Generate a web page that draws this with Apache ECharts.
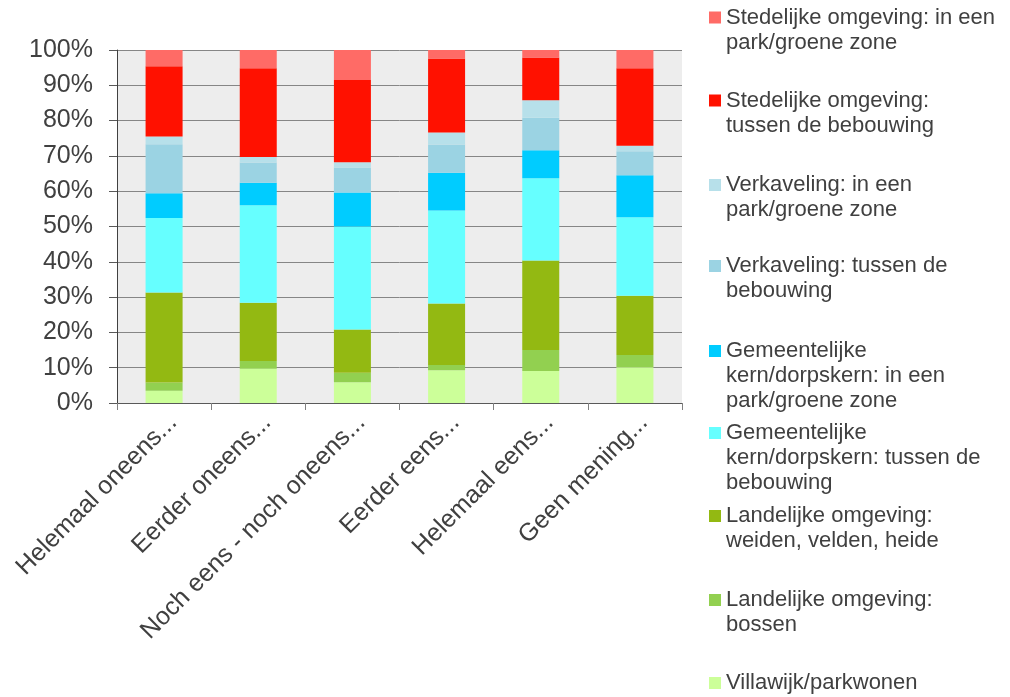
<!DOCTYPE html>
<html>
<head>
<meta charset="utf-8">
<script src="https://cdn.jsdelivr.net/npm/echarts@6/dist/echarts.min.js"></script>
<style>
html,body{margin:0;padding:0;background:#fff;}
#chart{width:1010px;height:697px;}
</style>
</head>
<body>
<div id="chart"></div>
<script>
// Categories (x axis)
const categories = ['Helemaal oneens...', 'Eerder oneens...', 'Noch eens - noch oneens...', 'Eerder eens...', 'Helemaal eens...', 'Geen mening...'];

// Series values (%), bottom of stack first
const villawijk       = [3.5, 9.7, 5.9, 9.3, 9.1, 10.1];
const landBossen      = [2.3, 2.2, 2.7, 1.5, 5.9, 3.5];
const landWeiden      = [25.5, 16.5, 12.2, 17.4, 25.4, 16.8];
const kernTussen      = [21.1, 27.6, 29.2, 26.3, 23.3, 22.2];
const kernPark        = [7.0, 6.4, 9.6, 10.7, 7.9, 11.9];
const verkTussen      = [13.9, 5.7, 7.1, 8.0, 9.2, 6.8];
const verkPark        = [2.2, 1.6, 1.5, 3.4, 5.0, 1.6];
const stedTussen      = [19.9, 25.1, 23.3, 21.0, 12.1, 21.9];
const stedPark        = [4.6, 5.2, 8.5, 2.4, 2.1, 5.2];

// Series names
const seriesNames = [
  'Villawijk/parkwonen',
  'Landelijke omgeving: bossen',
  'Landelijke omgeving: weiden, velden, heide',
  'Gemeentelijke kern/dorpskern: tussen de bebouwing',
  'Gemeentelijke kern/dorpskern: in een park/groene zone',
  'Verkaveling: tussen de bebouwing',
  'Verkaveling: in een park/groene zone',
  'Stedelijke omgeving: tussen de bebouwing',
  'Stedelijke omgeving: in een park/groene zone'
];
// Legend labels as wrapped in the reference
const legendLabels = [
  'Villawijk/parkwonen',
  'Landelijke omgeving:\nbossen',
  'Landelijke omgeving:\nweiden, velden, heide',
  'Gemeentelijke\nkern/dorpskern: tussen de\nbebouwing',
  'Gemeentelijke\nkern/dorpskern: in een\npark/groene zone',
  'Verkaveling: tussen de\nbebouwing',
  'Verkaveling: in een\npark/groene zone',
  'Stedelijke omgeving:\ntussen de bebouwing',
  'Stedelijke omgeving: in een\npark/groene zone'
];
const seriesValues = [villawijk, landBossen, landWeiden, kernTussen, kernPark, verkTussen, verkPark, stedTussen, stedPark];
const seriesColors = ['#ccff99', '#92d050', '#93b912', '#66ffff', '#00ccff', '#9bd3e3', '#b7e0ea', '#ff1100', '#ff6b66'];

// Y axis ticks
const yTicks = [0, 10, 20, 30, 40, 50, 60, 70, 80, 90, 100];

const FONT = '"Liberation Sans", Arial, sans-serif';
const TXT = '#404040';

// legend first-line centres (top to bottom = last series first)
const legendCentres = [683, 600, 516, 433, 351, 266, 185, 100.5, 17.5];
const LH = 25;

const legends = seriesNames.map((name, i) => {
  const n = legendLabels[i].split('\n').length;
  // prepend blank lines so the first real line sits level with the icon
  const txt = '\n'.repeat(n - 1) + legendLabels[i];
  return {
    data: [name],
    left: 709,
    top: legendCentres[i] - (2 * n - 1) * LH / 2,
    padding: 0,
    itemWidth: 12,
    itemHeight: 12,
    itemGap: 0,
    icon: 'rect',
    selectedMode: false,
    formatter: () => txt,
    textStyle: {
      fontFamily: FONT,
      fontSize: 22,
      color: TXT,
      lineHeight: LH
    }
  };
});

const chart = echarts.init(document.getElementById('chart'), null, {renderer: 'canvas'});
chart.setOption({
  animation: false,
  backgroundColor: '#ffffff',
  legend: legends,
  grid: {
    left: 117, right: 328, top: 50, bottom: 294,
    show: true, backgroundColor: '#ededed', borderWidth: 0
  },
  xAxis: {
    type: 'category',
    data: categories,
    axisLine: {show: true, lineStyle: {color: '#595959', width: 1}},
    axisTick: {show: true, length: 7, alignWithLabel: false, lineStyle: {color: '#808080'}},
    axisLabel: {
      interval: 0, rotate: 45, margin: 7,
      align: 'right', verticalAlign: 'top',
      fontFamily: FONT, fontSize: 25, color: TXT
    }
  },
  yAxis: {
    type: 'value',
    min: yTicks[0], max: yTicks[yTicks.length - 1], interval: 10,
    axisLine: {show: true, lineStyle: {color: '#404040', width: 1}},
    axisTick: {show: true, length: 8, lineStyle: {color: '#595959'}},
    splitLine: {show: true, lineStyle: {color: '#868686', width: 1}},
    axisLabel: {
      formatter: '{value}%', margin: 24,
      fontFamily: FONT, fontSize: 25, color: TXT
    }
  },
  series: seriesNames.map((name, i) => ({
    name: name,
    type: 'bar',
    stack: 'total',
    barWidth: 37,
    data: seriesValues[i],
    itemStyle: {color: seriesColors[i]}
  }))
});
</script>
</body>
</html>
